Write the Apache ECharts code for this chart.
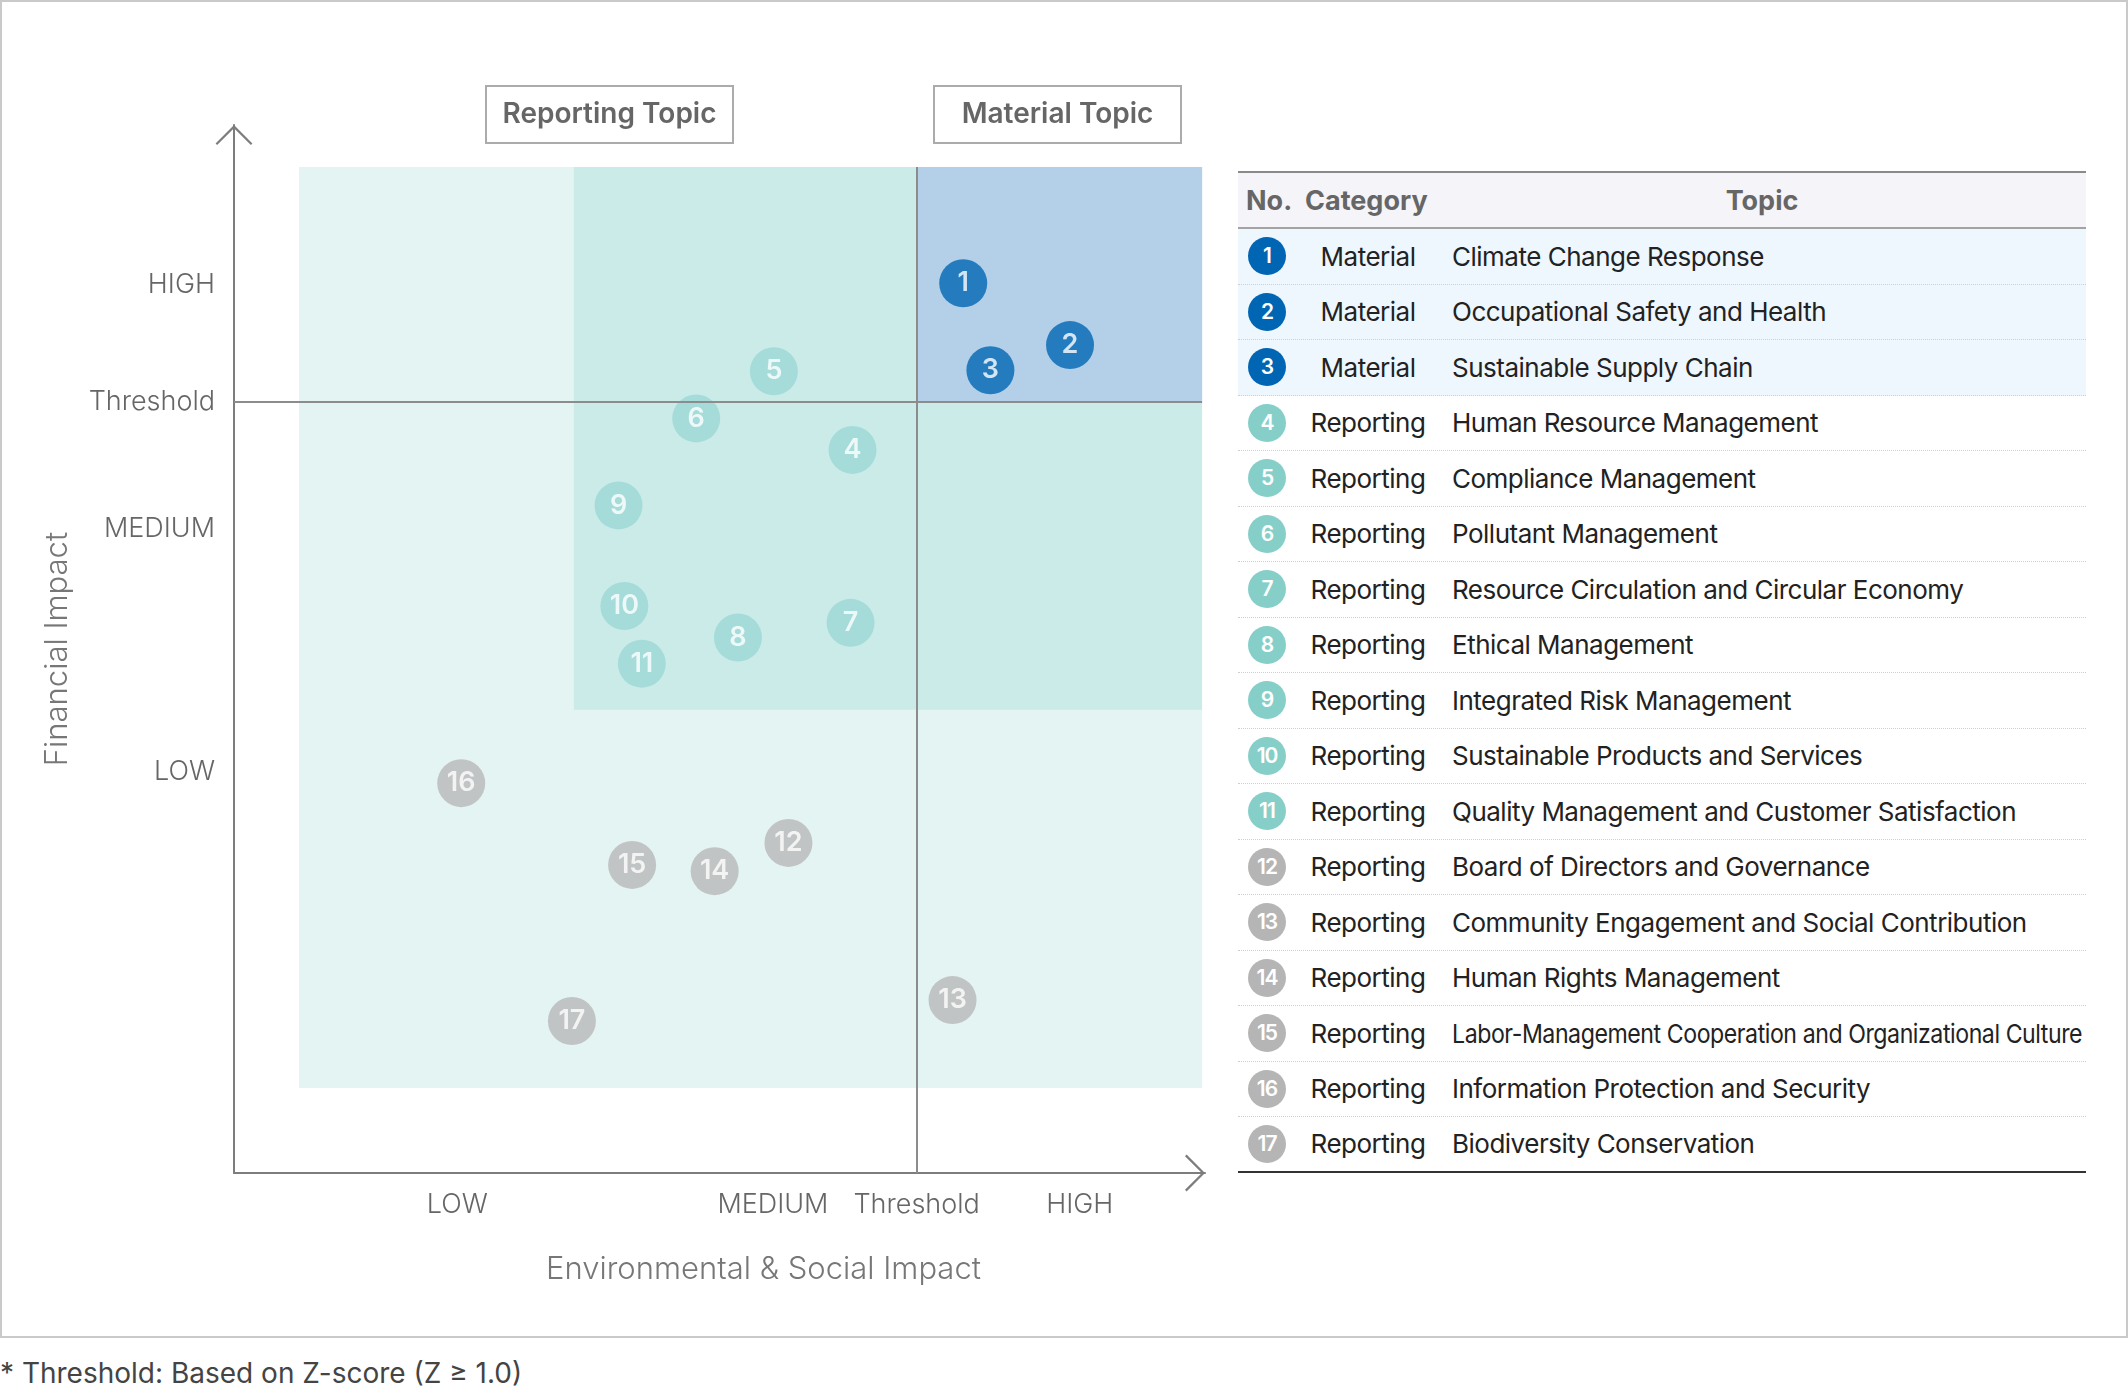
<!DOCTYPE html>
<html lang="en">
<head>
	<meta charset="UTF-8">
	<title>Materiality Matrix</title>
	<script src="https://cdn.jsdelivr.net/npm/echarts@6/dist/echarts.min.js"></script>
	<style>
		html, body { margin: 0; padding: 0; background: #fff; font-family: Inter, "Noto Sans", sans-serif; }
		.frame { position: absolute; left: 0; top: 0; width: 2128px; height: 1338px; box-sizing: border-box; border: 2px solid #c9c9c9; }
		#matrix { position: absolute; left: 0; top: 0; width: 1230px; height: 1336px; }
		/* topic list on the right */
		.topics { position: absolute; left: 1238px; top: 171px; width: 848px; color: #222; }
		.topics .head { position: relative; height: 58px; box-sizing: border-box; background: #f4f4f9;
			border-top: 2px solid #8a8a8a; border-bottom: 2px solid #a3a3a3; font-weight: 700; font-size: 27px; color: #666; }
		.topics .head span { position: absolute; top: 50%; transform: translateY(-50%); }
		.topics .row { display: flex; align-items: center; height: 55.5px; box-sizing: border-box;
			border-bottom: 1px dotted #cfcfcf; font-size: 26px; letter-spacing: -0.5px; }
		.topics .row.material { background: #eef6fe; }
		.topics .row:last-child { border-bottom: 2px solid #333; }
		.topics .no { flex: none; width: 58px; display: flex; justify-content: center; }
		.topics .no i { display: block; width: 38px; height: 38px; border-radius: 50%; color: #fff; font-style: normal;
			font-size: 21px; font-weight: 600; line-height: 38px; text-align: center; letter-spacing: -1px; }
		.topics .cat { flex: none; width: 144px; text-align: center; }
		.topics .name { flex: 1 1 auto; min-width: 0; padding-left: 12px; white-space: nowrap; overflow: visible; }
		.topics .name span { display: inline-block; transform-origin: left center; }
		.note { position: absolute; left: 0; top: 1355px; font-size: 28px; line-height: 36px; color: #444; }
	</style>
</head>
<body>
<div class="frame"></div>
<div id="matrix"></div>
<div class="topics" id="topics"></div>
<div class="note">* Threshold: Based on Z-score (Z ≥ 1.0)</div>

<script>
    // topic numbers, categories and names (table + bubbles)
    var topicNo = [1, 2, 3, 4, 5, 6, 7, 8, 9, 10, 11, 12, 13, 14, 15, 16, 17];
    var topicCategory = ['Material', 'Material', 'Material', 'Reporting', 'Reporting', 'Reporting', 'Reporting',
        'Reporting', 'Reporting', 'Reporting', 'Reporting', 'Reporting', 'Reporting', 'Reporting', 'Reporting',
        'Reporting', 'Reporting'];
    var topicName = ['Climate Change Response', 'Occupational Safety and Health', 'Sustainable Supply Chain',
        'Human Resource Management', 'Compliance Management', 'Pollutant Management',
        'Resource Circulation and Circular Economy', 'Ethical Management', 'Integrated Risk Management',
        'Sustainable Products and Services', 'Quality Management and Customer Satisfaction',
        'Board of Directors and Governance', 'Community Engagement and Social Contribution',
        'Human Rights Management', 'Labor-Management Cooperation and Organizational Culture',
        'Information Protection and Security', 'Biodiversity Conservation'];
    // colour group of each topic: material / upper reporting / lower reporting
    var topicTier = ['material', 'material', 'material', 'upper', 'upper', 'upper', 'upper', 'upper', 'upper',
        'upper', 'upper', 'lower', 'lower', 'lower', 'lower', 'lower', 'lower'];

    // position on the matrix (0-100 scale on both axes)
    var esImpact = [75.1, 86.1, 77.9, 63.7, 55.6, 47.6, 63.5, 51.9, 39.6, 40.2, 42.0, 57.1, 74.0, 49.5, 41.0, 23.4, 34.8];
    var finImpact = [84.9, 79.0, 76.6, 69.0, 76.5, 72.0, 52.5, 51.1, 63.7, 54.1, 48.6, 31.5, 16.5, 28.8, 29.4, 37.2, 14.5];

    // axis tick labels
    var xTickValues = [23.0, 55.5, 70.3, 87.1];
    var xTickLabels = ['LOW', 'MEDIUM', 'Threshold', 'HIGH'];
    var yTickValues = [38.3, 61.5, 73.6, 84.7];
    var yTickLabels = ['LOW', 'MEDIUM', 'Threshold', 'HIGH'];

    // thresholds and shaded zones
    var xThreshold = 70.3;
    var yThreshold = 73.6;
    var zoneTop = 96.0, zoneRight = 99.7;
    var outerZone = { left: 6.7, bottom: 8.1 };
    var middleZone = { left: 35.0, bottom: 44.2 };

    var tierColor = { material: '#0066b3', upper: '#9bd8d4', lower: '#b8b8b8' };
    var tableColor = { material: '#0066b3', upper: '#86cfc9', lower: '#b5b5b5' };

    function tickText(values, labels) {
        return function (v) {
            var best = 0;
            for (var i = 1; i < values.length; i++) {
                if (Math.abs(values[i] - v) < Math.abs(values[best] - v)) best = i;
            }
            return labels[best];
        };
    }

    // open chevron used as the axis arrow head
    var chevron = 'path://M20,0 L40,20 L38.3,21.7 L20,3.4 L1.7,21.7 L0,20 Z';
    var axisGray = '#7d7d7d';

    var points = topicNo.map(function (n, i) {
        return {
            value: [esImpact[i], finImpact[i], n],
            itemStyle: { color: tierColor[topicTier[i]] }
        };
    });

    var chart = echarts.init(document.getElementById('matrix'));
    var option = {
        animation: false,
        textStyle: { fontFamily: 'Inter' },
        grid: { left: 234, top: 125, width: 971, height: 1048, containLabel: false, outerBoundsMode: 'none' },
        xAxis: {
            type: 'value', min: 0, max: 100,
            axisLine: {
                show: true, lineStyle: { color: axisGray, width: 2 },
                symbol: ['none', chevron], symbolSize: [38, 20], symbolOffset: [0, -10]
            },
            axisTick: { show: false },
            splitLine: { show: false },
            axisLabel: {
                customValues: xTickValues, formatter: tickText(xTickValues, xTickLabels),
                color: '#666', fontSize: 27, fontWeight: 300, lineHeight: 27, margin: 18
            },
            name: 'Environmental & Social Impact', nameLocation: 'middle', nameGap: 81,
            nameTextStyle: { color: '#777', fontSize: 31, fontWeight: 300, padding: [0, 0, 0, 88] }
        },
        yAxis: {
            type: 'value', min: 0, max: 100,
            axisLine: {
                show: true, lineStyle: { color: axisGray, width: 2 },
                symbol: ['none', chevron], symbolSize: [38, 20], symbolOffset: [0, -10]
            },
            axisTick: { show: false },
            splitLine: { show: false },
            axisLabel: {
                customValues: yTickValues, formatter: tickText(yTickValues, yTickLabels),
                color: '#666', fontSize: 27, fontWeight: 300, margin: 19
            },
            name: 'Financial Impact', nameLocation: 'middle', nameGap: 161,
            nameTextStyle: { color: '#777', fontSize: 31, fontWeight: 300 }
        },
        graphic: [
            { type: 'rect', shape: { x: 486, y: 86, width: 247, height: 57 }, style: { fill: '#fff', stroke: '#ababab', lineWidth: 2 } },
            { type: 'text', x: 609.5, y: 115, style: { text: 'Reporting Topic', fill: '#666', font: '600 28px Inter', align: 'center', verticalAlign: 'middle' } },
            { type: 'rect', shape: { x: 934, y: 86, width: 247, height: 57 }, style: { fill: '#fff', stroke: '#ababab', lineWidth: 2 } },
            { type: 'text', x: 1057.5, y: 115, style: { text: 'Material Topic', fill: '#666', font: '600 28px Inter', align: 'center', verticalAlign: 'middle' } }
        ],
        series: [
            {
                name: 'zones', type: 'scatter', data: [], z: 1, silent: true,
                markArea: {
                    silent: true,
                    data: [
                        [{ coord: [outerZone.left, zoneTop], itemStyle: { color: '#e4f4f3', opacity: 1 } }, { coord: [zoneRight, outerZone.bottom] }],
                        [{ coord: [middleZone.left, zoneTop], itemStyle: { color: '#cbebe9', opacity: 1 } }, { coord: [zoneRight, middleZone.bottom] }],
                        [{ coord: [xThreshold, zoneTop], itemStyle: { color: '#b3d0e8', opacity: 1 } }, { coord: [zoneRight, yThreshold] }]
                    ]
                }
            },
            {
                name: 'thresholds', type: 'scatter', data: [], z: 2, silent: true,
                markLine: {
                    silent: true, symbol: 'none', label: { show: false },
                    lineStyle: { color: '#8c8c8c', width: 2, type: 'solid' },
                    data: [
                        [{ coord: [0, yThreshold] }, { coord: [zoneRight, yThreshold] }],
                        [{ coord: [xThreshold, 0] }, { coord: [xThreshold, zoneTop] }]
                    ]
                }
            },
            {
                name: 'topics', type: 'scatter', z: 3,
                symbolSize: 48,
                data: points,
                label: {
                    show: true, position: 'inside', color: '#fff', fontSize: 27, fontWeight: 600,
                    formatter: function (p) { return p.value[2]; }
                }
            }
        ]
    };
    chart.setOption(option);

    // right-hand topic table
    var box = document.getElementById('topics');
    var html = '<div class="head"><span style="left:8px">No.</span><span style="left:67px">Category</span>' +
        '<span style="left:524px;transform:translate(-50%,-50%)">Topic</span></div>';
    topicNo.forEach(function (n, i) {
        html += '<div class="row ' + (topicTier[i] === 'material' ? 'material' : '') + '">' +
            '<div class="no"><i style="background:' + tableColor[topicTier[i]] + '">' + n + '</i></div>' +
            '<div class="cat">' + topicCategory[i] + '</div>' +
            '<div class="name"><span>' + topicName[i] + '</span></div></div>';
    });
    box.innerHTML = html;
    // squeeze names that do not fit the column
    var spans = box.querySelectorAll('.name span');
    for (var k = 0; k < spans.length; k++) {
        var room = 630;
        var w = spans[k].getBoundingClientRect().width;
        if (w > room) spans[k].style.transform = 'scaleX(' + (room / w).toFixed(3) + ')';
    }
</script>
</body>
</html>
